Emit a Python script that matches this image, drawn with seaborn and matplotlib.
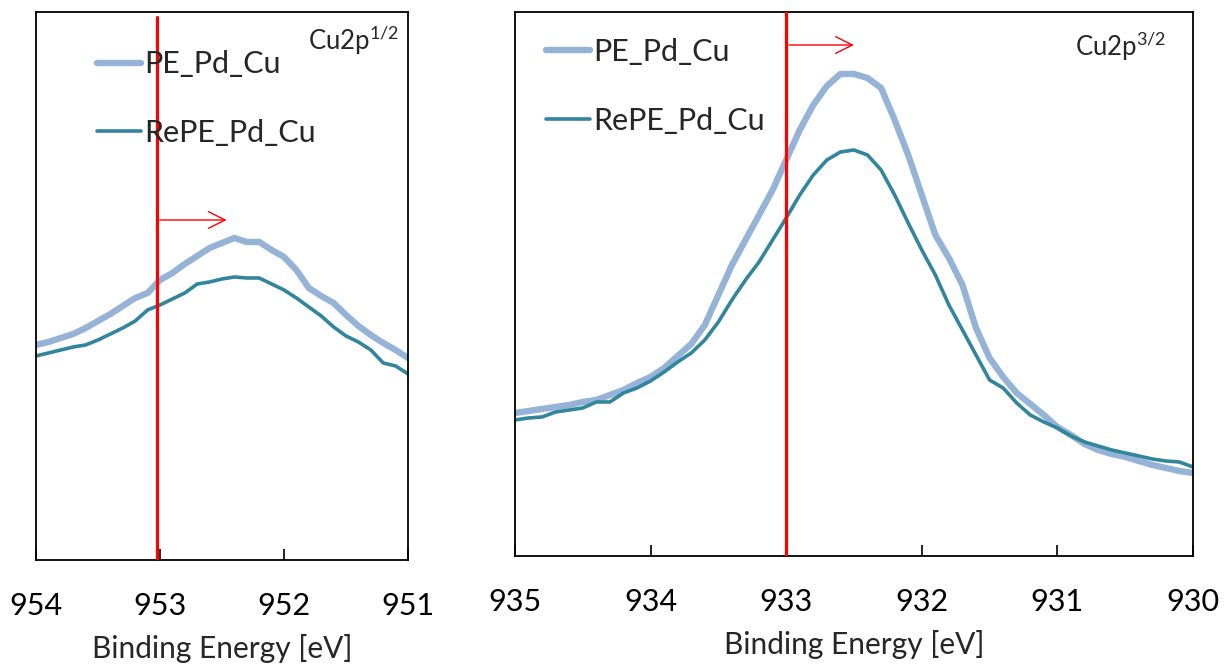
import numpy as np
import pandas as pd
import matplotlib
matplotlib.use("Agg")
import matplotlib.pyplot as plt
import seaborn as sns

# Cu2p 1/2 region (binding energy in eV, intensity a.u.)
energia_12 = np.round(np.arange(954.0, 950.95, -0.1), 1)
pe_12 = [215, 218, 222, 226, 232, 239, 246, 254, 262, 267, 280, 287, 296, 304, 312, 317,
         322, 318, 318, 310, 303, 290, 272, 264, 257, 245, 234, 225, 217, 210, 202]
repe_12 = [204, 207, 210, 213, 215, 220, 226, 232, 239, 250, 255, 261, 267, 276, 278, 281,
           283, 282, 282, 276, 270, 262, 253, 244, 233, 224, 218, 210, 197, 194, 186]

# Cu2p 3/2 region
energia_32 = np.round(np.arange(935.0, 929.95, -0.1), 1)
pe_32 = [143, 145, 147, 149, 151, 154, 156, 161, 166, 173, 179, 188, 200, 212, 231, 261,
         291, 316, 341, 366, 396, 426, 451, 470, 482, 482, 478, 468, 436, 401, 361, 321,
         298, 271, 228, 198, 179, 163, 152, 141, 129, 121, 112, 106, 102, 99, 95, 91, 88, 85, 83]
repe_32 = [136, 138, 139, 144, 146, 148, 154, 154, 163, 168, 175, 184, 194, 203, 216, 234,
           256, 276, 294, 316, 338, 361, 381, 396, 404, 406, 401, 386, 361, 333, 306, 281,
           251, 226, 201, 176, 168, 153, 141, 134, 128, 120, 114, 110, 106, 103, 100, 97, 95, 94, 89]

amostras = ["PE_Pd_Cu", "RePE_Pd_Cu"]
cores = {"PE_Pd_Cu": "#95B3D7", "RePE_Pd_Cu": "#31859C"}
espessuras = {"PE_Pd_Cu": 4.6, "RePE_Pd_Cu": 2.6}


def montar_df(energia, pe, repe):
    df_pe = pd.DataFrame({"Energia": energia, "Intensidade": pe, "Amostra": "PE_Pd_Cu"})
    df_re = pd.DataFrame({"Energia": energia, "Intensidade": repe, "Amostra": "RePE_Pd_Cu"})
    return pd.concat([df_pe, df_re], ignore_index=True)


sns.set_theme(style="white")
plt.rcParams["font.family"] = ["Lato", "DejaVu Sans"]

fig = plt.figure(figsize=(12.29, 6.66), dpi=100)
ax1 = fig.add_axes([0.0293, 0.1592, 0.3027, 0.8228])
ax2 = fig.add_axes([0.4190, 0.1652, 0.5517, 0.8168])

paineis = [
    (ax1, montar_df(energia_12, pe_12, repe_12), (954, 951), [954, 953, 952, 951], 548,
     953.025, 0.991, 952.44, 340, "Cu2p$^{\\mathregular{1/2}}$", (0.731, 0.930), (0.164, 0.930)),
    (ax2, montar_df(energia_32, pe_32, repe_32), (935, 930), [935, 934, 933, 932, 931, 930], 544,
     933, 1.0, 932.48, 511, "Cu2p$^{\\mathregular{3/2}}$", (0.826, 0.920), (0.046, 0.952)),
]

for ax, df, xlim, ticks, ytop, linha, linha_top, seta_fim, seta_y, rotulo, pos_rot, pos_leg in paineis:
    for amostra in amostras:
        sns.lineplot(data=df[df["Amostra"] == amostra], x="Energia", y="Intensidade",
                     color=cores[amostra], linewidth=espessuras[amostra], ax=ax,
                     label=amostra, solid_capstyle="round")
    ax.set_xlim(*xlim)
    ax.set_ylim(0, ytop)
    ax.set_xticks(ticks)
    ax.set_xticklabels([str(t) for t in ticks])
    ax.set_yticks([])
    ax.set_ylabel("")
    ax.set_xlabel("Binding Energy [eV]", fontsize=21.5, labelpad=10)
    ax.tick_params(axis="x", direction="in", length=8, width=1.2, labelsize=22,
                   pad=23, bottom=True, colors="black")
    for sp in ax.spines.values():
        sp.set_color("black")
        sp.set_linewidth(1.3)

    ax.axvline(linha, ymin=0, ymax=linha_top, color="#FF0000", linewidth=2.3, zorder=5)
    ax.annotate("", xy=(seta_fim, seta_y), xytext=(linha, seta_y),
                arrowprops=dict(arrowstyle="->,head_length=1.0,head_width=0.5",
                                color="#FF0000", lw=1.0))
    ax.text(pos_rot[0], pos_rot[1], rotulo, transform=ax.transAxes, fontsize=18.5,
            ha="left", va="baseline")
    ax.legend(loc="upper left", bbox_to_anchor=pos_leg, frameon=False, fontsize=22,
              handlelength=1.45, handletextpad=0.1, labelspacing=1.33,
              borderpad=0, borderaxespad=0)

fig.savefig("out.png", dpi=100)
